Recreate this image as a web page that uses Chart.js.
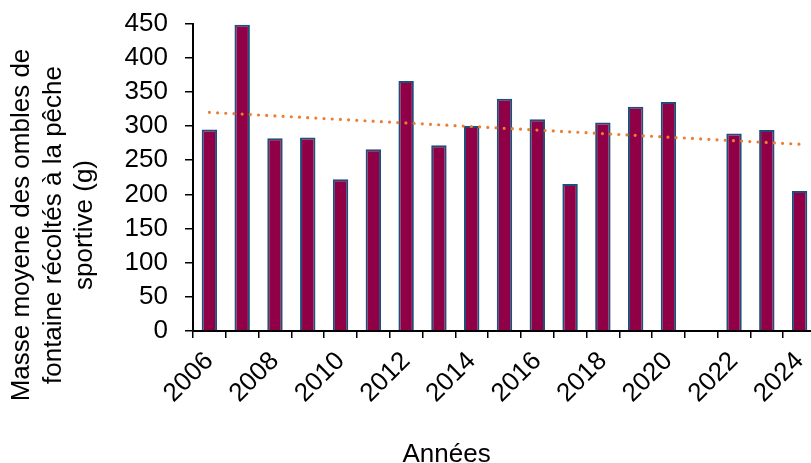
<!DOCTYPE html>
<html lang="fr">
<head>
<meta charset="utf-8">
<title>Masse moyenne des ombles de fontaine</title>
<script src="https://cdn.jsdelivr.net/npm/chart.js@4/dist/chart.umd.min.js"></script>
<style>
    html, body { margin: 0; padding: 0; background: #fff; overflow: hidden; }
    .wrap { position: relative; width: 820px; height: 463px; }
</style>
</head>
<body>
<div class="wrap"><canvas id="chart"></canvas></div>
<script>
// Data
const years = ['2006', '2007', '2008', '2009', '2010', '2011', '2012', '2013', '2014', '2015',
               '2016', '2017', '2018', '2019', '2020', '2021', '2022', '2023', '2024'];
const masses = [295, 448, 282, 283, 222, 266, 366, 272, 300, 340,
                310, 215, 305, 328, 335, null, 289, 294, 205];
const yTicks = [0, 50, 100, 150, 200, 250, 300, 350, 400, 450];
const yTitle = ['Masse moyene des ombles de', 'fontaine récoltés à la pêche', 'sportive (g)'];
const xTitle = 'Années';

// Linear trendline (least squares on the category index, blanks ignored)
function trend(values) {
    const pts = values.map((v, i) => [i, v]).filter(p => p[1] !== null);
    const n = pts.length;
    const mx = pts.reduce((s, p) => s + p[0], 0) / n;
    const my = pts.reduce((s, p) => s + p[1], 0) / n;
    let sxy = 0, sxx = 0;
    pts.forEach(p => { sxy += (p[0] - mx) * (p[1] - my); sxx += (p[0] - mx) ** 2; });
    const slope = sxy / sxx;
    return values.map((v, i) => my + slope * (i - mx));
}

const FONT = 'Liberation Sans, Arial, sans-serif';
const SIZE = 26;

// axis titles: the originals sit off-centre, so they are drawn by hand
const titlesPlugin = {
    id: 'axisTitles',
    afterDraw(chart) {
        const ctx = chart.ctx;
        const area = chart.chartArea;
        ctx.save();
        ctx.font = SIZE + 'px ' + FONT;
        ctx.fillStyle = '#000';
        ctx.textAlign = 'center';

        // x title
        ctx.textBaseline = 'alphabetic';
        ctx.fillText(xTitle, area.left + (area.right - area.left) * 0.407, chart.height - 1);

        // y title, three lines rotated
        ctx.textBaseline = 'middle';
        yTitle.forEach((line, i) => {
            ctx.save();
            ctx.translate(22 + i * 31.5, 225);
            ctx.rotate(-Math.PI / 2);
            ctx.fillText(line, 0, 0);
            ctx.restore();
        });
        ctx.restore();
    }
};

const ctx = document.getElementById('chart').getContext('2d');
new Chart(ctx, {
    type: 'bar',
    data: {
        labels: years,
        datasets: [{
            type: 'line',
            label: 'Tendance',
            data: trend(masses),
            borderColor: '#ED7D31',
            borderWidth: 3.2,
            borderDash: [0, 8.2],
            borderCapStyle: 'round',
            pointRadius: 0,
            fill: false,
            order: 0
        }, {
            label: 'Masse moyenne',
            data: masses,
            backgroundColor: '#8F0046',
            borderColor: '#1F4E79',
            borderWidth: 2,
            barPercentage: 0.47,
            categoryPercentage: 1,
            order: 1
        }]
    },
    options: {
        responsive: true,
        maintainAspectRatio: false,
        animation: false,
        layout: { padding: { top: 23.5, left: 0, right: 4, bottom: 0 } },
        plugins: {
            legend: { display: false },
            tooltip: { enabled: false }
        },
        scales: {
            x: {
                offset: true,
                border: { color: '#000', width: 2 },
                grid: {
                    offset: true,
                    drawOnChartArea: false,
                    drawTicks: true,
                    tickLength: 7,
                    color: '#000',
                    lineWidth: 1.5
                },
                ticks: {
                    autoSkip: false,
                    maxRotation: 45,
                    minRotation: 45,
                    padding: 8,
                    color: '#000',
                    font: { family: FONT, size: SIZE },
                    callback: (v, i) => (i % 2 === 0 ? years[i] : '')
                },
                afterFit(scale) {
                    scale.height = 132;
                    scale.paddingLeft = 0;
                    scale.paddingRight = 0;
                }
            },
            y: {
                min: 0,
                max: 450,
                border: { color: '#000', width: 2 },
                grid: {
                    drawOnChartArea: false,
                    drawTicks: true,
                    tickLength: 8,
                    color: '#000',
                    lineWidth: 1.5
                },
                afterBuildTicks(scale) {
                    scale.ticks = yTicks.map(v => ({ value: v }));
                },
                ticks: {
                    autoSkip: false,
                    padding: 17,
                    color: '#000',
                    font: { family: FONT, size: SIZE }
                },
                afterFit(scale) {
                    scale.width = 193;
                    scale.paddingTop = 0;
                    scale.paddingBottom = 0;
                }
            }
        }
    },
    plugins: [titlesPlugin]
});
</script>
</body>
</html>
